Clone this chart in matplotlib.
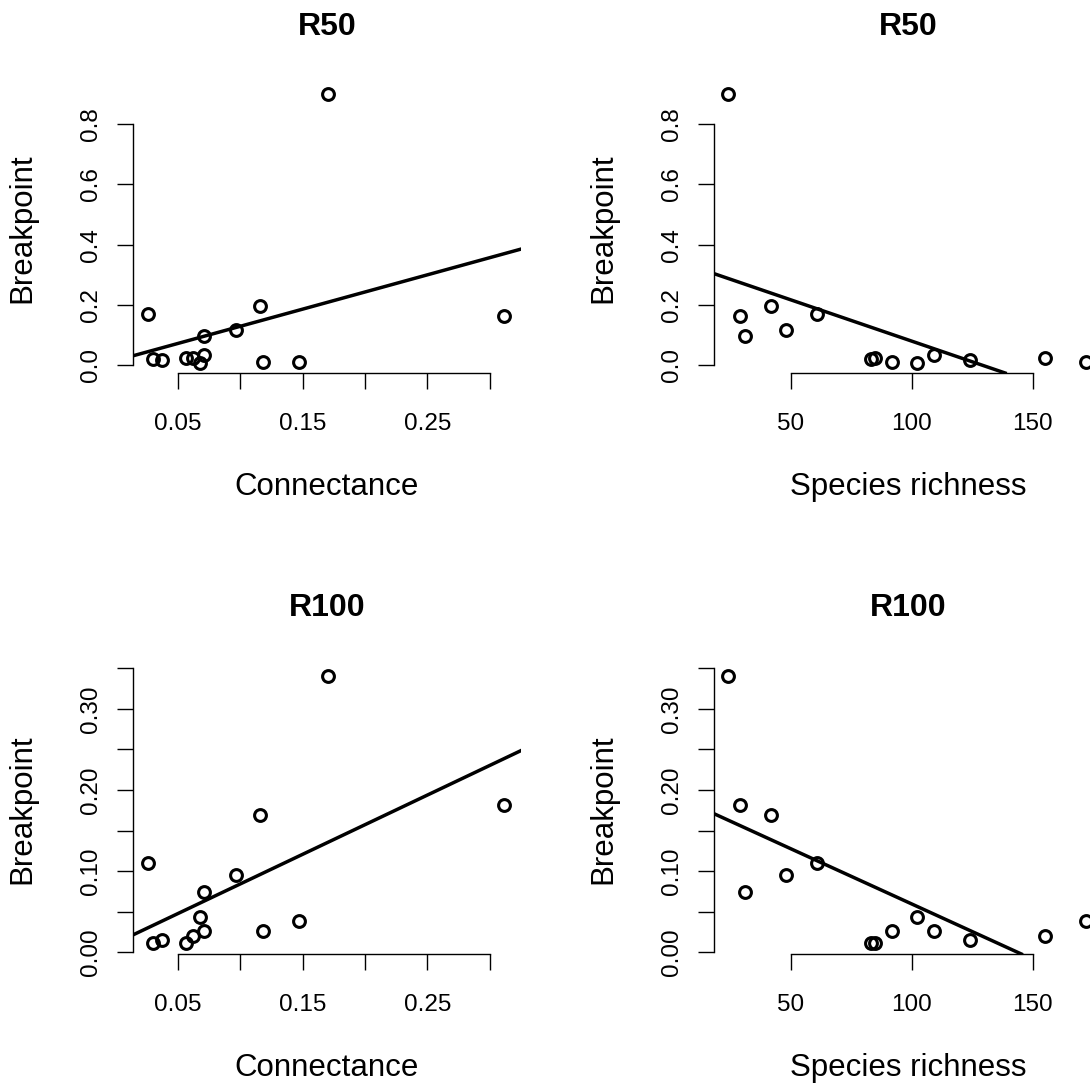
import numpy as np
import matplotlib
matplotlib.use("Agg")
import matplotlib.pyplot as plt

plt.rcParams['font.family'] = ['Liberation Sans', 'DejaVu Sans']

# one value per network (14 networks)
connectance = [0.0264, 0.0304, 0.0371, 0.0564, 0.0625, 0.0674, 0.0706,
               0.0711, 0.0965, 0.1160, 0.1179, 0.1468, 0.1703, 0.3113]
richness = [61, 83, 124, 85, 155, 102, 109, 31, 48, 42, 92, 172, 24, 29]
r50 = [0.170, 0.020, 0.015, 0.022, 0.022, 0.008, 0.032,
       0.096, 0.116, 0.196, 0.009, 0.009, 0.900, 0.163]
r100 = [0.1105, 0.0114, 0.0151, 0.0114, 0.0204, 0.0437, 0.0266,
        0.0737, 0.0953, 0.169, 0.0266, 0.0389, 0.3406, 0.1813]

titles = ["R50", "R100"]
xlabels = ["Connectance", "Species richness"]

W, H = 1090, 1086
fig = plt.figure(figsize=(W / 100, H / 100), dpi=100, facecolor="white")

col_x = [133, 714]
row_y = [84, 665]
pw, ph = 388, 289

xlims = [(0.0141, 0.325), (18.3, 178.6)]
ylims = [(-0.0266, 0.934), (-0.0021, 0.354)]
xticks = [[0.05, 0.10, 0.15, 0.20, 0.25, 0.30], [50, 100, 150]]
xticklabels = [["0.05", "", "0.15", "", "0.25", ""], ["50", "100", "150"]]
yticks = [[0.0, 0.2, 0.4, 0.6, 0.8],
          [0.00, 0.05, 0.10, 0.15, 0.20, 0.25, 0.30, 0.35]]
yticklabels = [["0.0", "0.2", "0.4", "0.6", "0.8"],
               ["0.00", "", "0.10", "", "0.20", "", "0.30", ""]]

for r, yvals in enumerate([r50, r100]):
    for c, xvals in enumerate([connectance, richness]):
        ax = fig.add_axes([col_x[c] / W, (H - row_y[r] - ph) / H, pw / W, ph / H])
        ax.set_facecolor("none")
        x = np.array(xvals, dtype=float)
        y = np.array(yvals, dtype=float)
        ax.plot(x, y, linestyle="none", marker="o", markersize=8.5,
                markerfacecolor="none", markeredgecolor="black",
                markeredgewidth=2.2, clip_on=False)
        # least-squares line, like abline(lm(y ~ x))
        m, b = np.polyfit(x, y, 1)
        ax.axline((0, b), slope=m, color="black", linewidth=2.5)
        ax.set_xlim(*xlims[c])
        ax.set_ylim(*ylims[r])

        for s in ["top", "right"]:
            ax.spines[s].set_visible(False)
        ax.spines["left"].set_bounds(yticks[r][0], yticks[r][-1])
        ax.spines["bottom"].set_bounds(xticks[c][0], xticks[c][-1])
        for s in ["left", "bottom"]:
            ax.spines[s].set_linewidth(1.0)

        ax.set_xticks(xticks[c])
        ax.set_xticklabels(xticklabels[c])
        ax.set_yticks(yticks[r])
        ax.set_yticklabels(yticklabels[r], rotation=90, va="center")
        ax.tick_params(axis="both", direction="out", length=11.5, width=1.0,
                       labelsize=17.5, colors="black")
        ax.tick_params(axis="x", pad=17)
        ax.tick_params(axis="y", pad=11)

        ax.set_xlabel(xlabels[c], fontsize=22.5, va="center")
        ax.xaxis.set_label_coords(0.5, -114 / ph)
        ax.set_ylabel("Breakpoint", fontsize=22.5, va="center")
        ax.yaxis.set_label_coords(-111 / pw, 0.5)

        ax.text(0.5, 1 + 49 / ph, titles[r], transform=ax.transAxes,
                ha="center", va="baseline", fontsize=23, fontweight="bold")

fig.savefig("out.png", dpi=100, facecolor="white")
